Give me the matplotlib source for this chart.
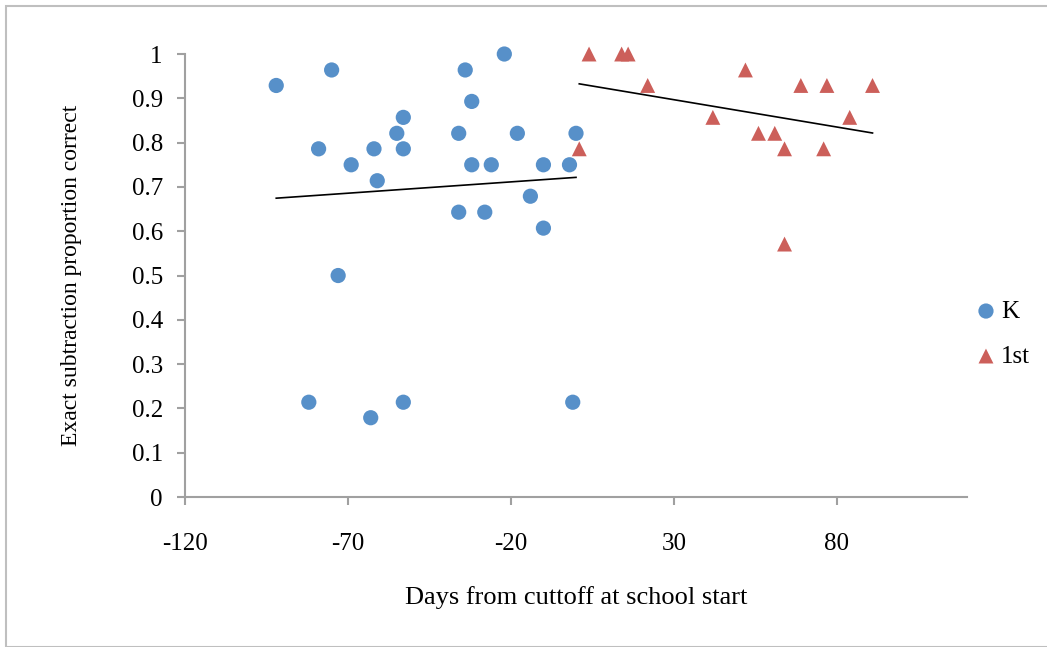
import numpy as np
import matplotlib
matplotlib.use("Agg")
import matplotlib.pyplot as plt
from matplotlib.patches import Rectangle

# Kindergarten (K) points: days from cutoff, proportion correct
k_days = [-92, -75, -79, -69, -62, -61, -55, -53, -53, -36, -34, -32, -32, -36,
          -28, -26, -22, -18, -14, -10, -10, -2, 0, -73, -82, -63, -53, -1]
k_prop = [0.929, 0.964, 0.786, 0.75, 0.786, 0.714, 0.821, 0.857, 0.786, 0.821,
          0.964, 0.893, 0.75, 0.643, 0.643, 0.75, 1.0, 0.821, 0.679, 0.75,
          0.607, 0.75, 0.821, 0.5, 0.214, 0.179, 0.214, 0.214]

# 1st grade points
g1_days = [4, 14, 16, 22, 52, 42, 56, 61, 64, 69, 76, 77, 84, 91, 64, 1]
g1_prop = [1.0, 1.0, 1.0, 0.929, 0.964, 0.857, 0.821, 0.821, 0.786, 0.929,
           0.786, 0.929, 0.857, 0.929, 0.571, 0.786]

x_ticks = [-120, -70, -20, 30, 80]
y_ticks = [0, 0.1, 0.2, 0.3, 0.4, 0.5, 0.6, 0.7, 0.8, 0.9, 1]
y_ticklabels = ["0", "0.1", "0.2", "0.3", "0.4", "0.5", "0.6", "0.7", "0.8", "0.9", "1"]

blue = "#5790C9"
red = "#CC5F5A"
axis_grey = "#A0A0A0"

plt.rcParams['font.family'] = ['Liberation Serif', 'DejaVu Serif']
plt.rcParams['axes.unicode_minus'] = False
plt.rc('font', size=18)

fig = plt.figure(figsize=(10.47, 6.47), dpi=100)
ax = fig.add_axes([0.1767, 0.2318, 0.7469, 0.6847])

ax.scatter(k_days, k_prop, s=120, marker='o', color=blue, edgecolors='none',
           label='K', zorder=3, clip_on=False)
ax.scatter(g1_days, g1_prop, s=115, marker='^', color=red, edgecolors='none',
           label='1st', zorder=3, clip_on=False)

# linear trend lines (as Excel draws them, over each group's x range)
for xs, ys in [(k_days, k_prop), (g1_days, g1_prop)]:
    xs = np.array(xs, dtype=float)
    ys = np.array(ys, dtype=float)
    m, b = np.polyfit(xs, ys, 1)
    xl = np.array([xs.min(), xs.max()])
    ax.plot(xl, m * xl + b, color='black', linewidth=1.2, zorder=2)

ax.set_xlim(-120, 120)
ax.set_ylim(0, 1)
ax.set_xticks(x_ticks)
ax.set_yticks(y_ticks)
ax.set_yticklabels(y_ticklabels)

for side in ['top', 'right']:
    ax.spines[side].set_visible(False)
for side in ['left', 'bottom']:
    ax.spines[side].set_color(axis_grey)
    ax.spines[side].set_linewidth(1.5)
ax.tick_params(axis='both', direction='out', length=6, width=1.5, color=axis_grey,
               labelsize=18)
ax.tick_params(axis='x', pad=20)
ax.tick_params(axis='y', pad=10)

ax.set_xlabel("Days from cuttoff at school start", fontsize=19, labelpad=22)
ax.set_ylabel("Exact subtraction proportion correct", fontsize=17, labelpad=36)

handles, labels = ax.get_legend_handles_labels()
fig.legend(handles, labels, loc='center left', bbox_to_anchor=(0.925, 0.484),
           frameon=False, fontsize=18, labelspacing=0.9, handlelength=0.6,
           handletextpad=0.3, borderaxespad=0.0, borderpad=0.4)

# chart area border
fig.patches.append(Rectangle((0.006, 0.0), 1.0, 0.99, transform=fig.transFigure,
                             fill=False, edgecolor='#BFBFBF', linewidth=1.5))

fig.savefig("out.png", dpi=100)
